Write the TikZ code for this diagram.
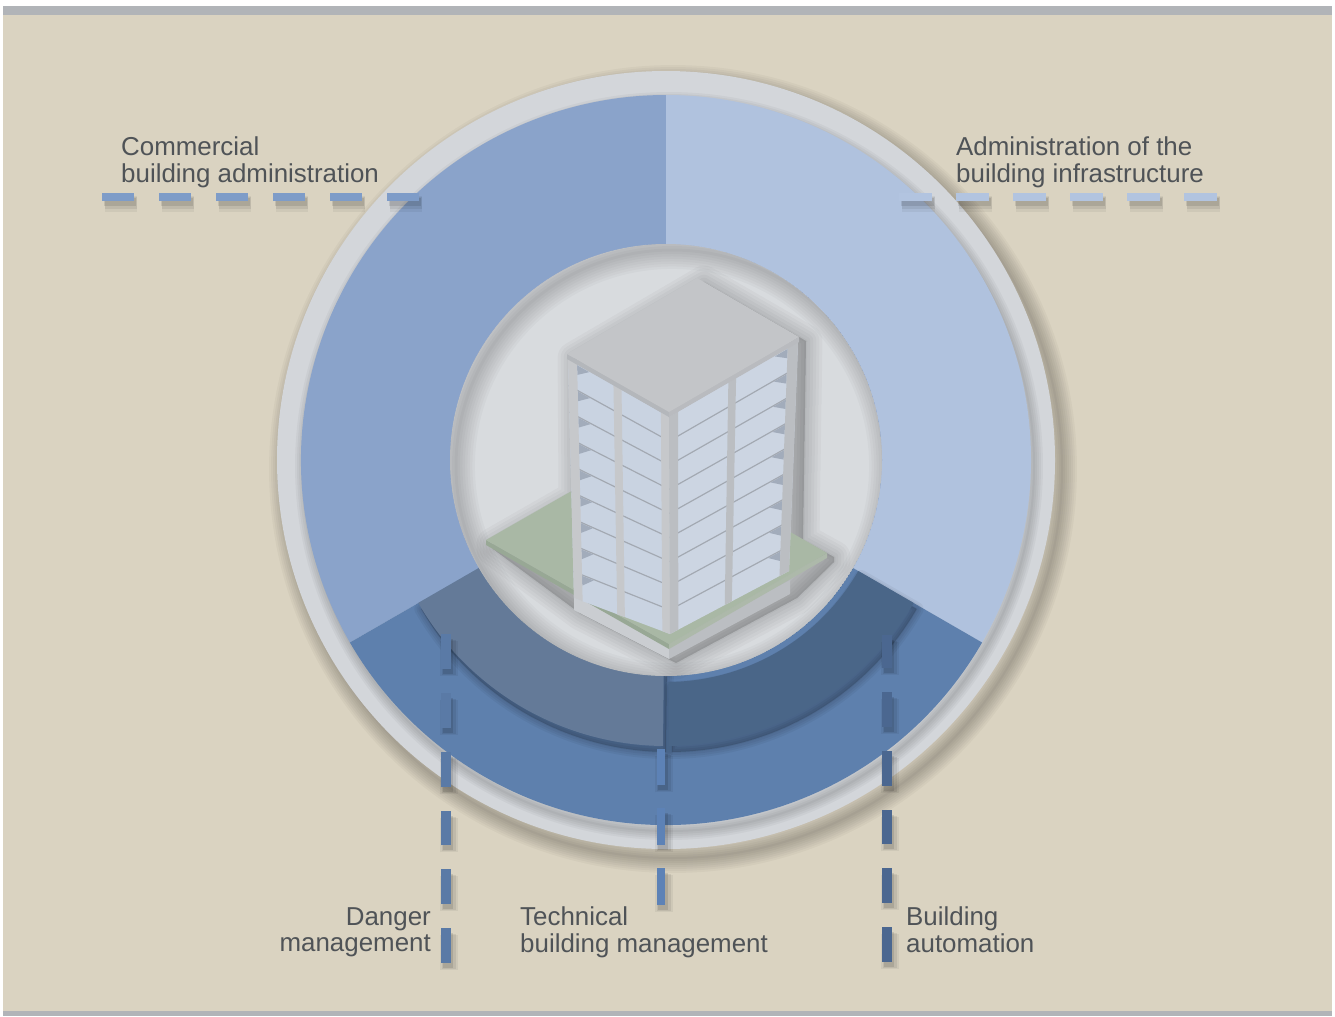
\documentclass[tikz,border=0pt]{standalone}
\usepackage{fontspec}
\setmainfont{Liberation Sans}
\usetikzlibrary{calc}

\definecolor{paper}{HTML}{DAD3C1}
\definecolor{bargray}{HTML}{B1B4B8}
\definecolor{rimgray}{HTML}{D3D6DA}
\definecolor{hubgray}{HTML}{D8DBDE}
\definecolor{commercial}{HTML}{8AA3CA}
\definecolor{infra}{HTML}{B0C2DE}
\definecolor{technical}{HTML}{5E80AD}
\definecolor{danger}{HTML}{647A98}
\definecolor{automation}{HTML}{4A6688}
\definecolor{commercialdash}{HTML}{7E9CC8}
\definecolor{infradash}{HTML}{B2C4E0}
\definecolor{dangerdash}{HTML}{5A7AA6}
\definecolor{technicaldash}{HTML}{5D82B6}
\definecolor{automationdash}{HTML}{4B6790}
\definecolor{ink}{HTML}{4F5357}
\definecolor{roof}{HTML}{C3C5C8}
\definecolor{roofside}{HTML}{B4B7BB}
\definecolor{pane}{HTML}{C9D3E1}
\definecolor{notch}{HTML}{A2ACBB}
\definecolor{pillar}{HTML}{C6C8CB}
\definecolor{pillarside}{HTML}{BBBEC2}
\definecolor{floorline}{HTML}{A3A9B2}
\definecolor{plate}{HTML}{A9B8A5}
\definecolor{plateside}{HTML}{98A895}
\definecolor{plinth}{HTML}{CACDD1}

% annular sector: options, from angle, to angle, inner radius, outer radius
\newcommand{\ringpart}[5]{%
  \fill[#1] ($(centre)+(#2:#5)$) arc[start angle=#2, end angle=#3, radius=#5]
    -- ($(centre)+(#3:#4)$) arc[start angle=#3, end angle=#2, radius=#4] -- cycle;}

\tikzset{
  ringtext/.style={
    font=\fontsize{26}{26.3}\selectfont,
    text=ink,
    inner sep=0pt,
    align=left
  },
  leader/.style 2 args={
    line width=#1,
    dash pattern=#2,
    preaction={draw=black, draw opacity=.05, line width=#1+9pt, dash pattern=#2, transform canvas={shift={(3,7)}}},
    preaction={draw=black, draw opacity=.07, line width=#1+5pt, dash pattern=#2, transform canvas={shift={(3,6)}}},
    preaction={draw=black, draw opacity=.10, line width=#1+1pt, dash pattern=#2, transform canvas={shift={(2,5)}}}
  },
  haze/.style={
    draw=black, fill=black, opacity=.045, line width=#1, line join=round
  }
}

\begin{document}
\begin{tikzpicture}[x=1bp, y=-1bp]
  \useasboundingbox (0,0) rectangle (1335,1016);
  \fill[white] (0,0) rectangle (1335,1016);
  \fill[paper] (3,6) rectangle (1332,1016);
  \fill[bargray] (3,6) rectangle (1332,15);
  \fill[bargray] (3,1011) rectangle (1332,1016);

  \coordinate (centre) at (666,460);

  % rim with its shadow
  \foreach \w in {2,6,...,30}
    \draw[black, draw opacity=.03, line width=\w pt] ($(centre)+(7,9)$) circle (389);
  \fill[rimgray] (centre) circle (389);

  % the three outer fields
  \foreach \w in {2,6,...,18}
    \draw[black, draw opacity=.035, line width=\w pt] ($(centre)+(3,6)$) circle (365);
  \ringpart{commercial}{150}{270}{0}{365}
  \ringpart{infra}{-90}{30}{0}{365}
  \ringpart{technical}{30}{150}{0}{365}

  % inner fields
  \foreach \w in {2,6,...,14} {
    \ringpart{haze=\w pt, transform canvas={shift={(3,6)}}}{90.6}{150}{200}{286}
    \ringpart{haze=\w pt, transform canvas={shift={(3,6)}}}{30}{89.4}{222}{286}
  }
  \ringpart{danger}{90.6}{150}{200}{286}
  \ringpart{automation}{30}{89.4}{222}{286}

  % hub with a soft inner shade
  \begin{scope}
    \clip (centre) circle (216);
    \fill[hubgray] (centre) circle (216);
    \foreach \w in {3,8,...,38}
      \draw[black, draw opacity=.022, line width=\w pt] ($(centre)+(6,6)$) circle (216);
  \end{scope}

  % building
  \coordinate (rT) at (697,278);
  \coordinate (rL) at (567,354);
  \coordinate (rF) at (669,412);
  \coordinate (rR) at (799,337);
  \coordinate (sL) at (567,359);
  \coordinate (sF) at (669,417);
  \coordinate (sR) at (799,342);
  \coordinate (TL) at (568,359);
  \coordinate (TF) at (669,417);
  \coordinate (TR) at (798,342);
  \coordinate (BL) at (574,598);
  \coordinate (BF) at (670,634);
  \coordinate (BR) at (789,571);
  \coordinate (pL) at (486,540);
  \coordinate (pF) at (669,644);
  \coordinate (pR) at (827,553);
  \coordinate (pB) at (645,449);
  \coordinate (pLb) at (486,545);
  \coordinate (pFb) at (669,649);
  \coordinate (pRb) at (827,558);
  \coordinate (kF) at (669,659);

  \foreach \w in {3,9,...,33}
    \path[haze=\w pt, opacity=.028, transform canvas={shift={(7,4)}}]
      (rL) -- (rT) -- (rR) -- (796,536) -- (pR) -- (pRb) -- (790,594) -- (kF)
      -- (574,610) -- (pLb) -- (pL) -- (568,493) -- cycle;

  \fill[plinth] (574,590) -- (669,645) -- (kF) -- (574,610) -- cycle;
  \fill[pillarside] (669,645) -- (790,580) -- (790,594) -- (kF) -- cycle;
  \fill[plateside] (pL) -- (pF) -- (pFb) -- (pLb) -- cycle;
  \fill[plateside!80!white] (pF) -- (pR) -- (pRb) -- (pFb) -- cycle;
  \fill[plate] (pL) -- (pB) -- (pR) -- (pF) -- cycle;

  \fill[pane] (TL) -- (TF) -- (BF) -- (BL) -- cycle;
  \fill[pane!95!white] (TF) -- (TR) -- (BR) -- (BF) -- cycle;
  \foreach \k in {0,...,8} {
    \pgfmathsetmacro\ta{\k/9+0.004}
    \pgfmathsetmacro\tb{\k/9+0.045}
    \fill[notch] ($($(TL)!\ta!(BL)$)!0.09!($(TF)!\ta!(BF)$)$)
      -- ($($(TL)!\ta!(BL)$)!0.21!($(TF)!\ta!(BF)$)$)
      -- ($($(TL)!\tb!(BL)$)!0.09!($(TF)!\tb!(BF)$)$) -- cycle;
    \fill[notch] ($($(TF)!\ta!(BF)$)!0.92!($(TR)!\ta!(BR)$)$)
      -- ($($(TF)!\ta!(BF)$)!0.82!($(TR)!\ta!(BR)$)$)
      -- ($($(TF)!\tb!(BF)$)!0.92!($(TR)!\tb!(BR)$)$) -- cycle;
  }
  \foreach \k in {1,...,8} {
    \draw[floorline, line width=1.2pt] ($(TL)!{\k/9}!(BL)$) -- ($(TF)!{\k/9}!(BF)$);
    \draw[floorline, line width=1.2pt] ($(TF)!{\k/9}!(BF)$) -- ($(TR)!{\k/9}!(BR)$);
  }
  \foreach \a/\b in {0/0.09, 0.45/0.53, 0.92/1}
    \fill[pillar] ($(TL)!\a!(TF)$) -- ($(TL)!\b!(TF)$) -- ($(BL)!\b!(BF)$) -- ($(BL)!\a!(BF)$) -- cycle;
  \foreach \a/\b in {0/0.07, 0.46/0.52, 0.92/1}
    \fill[pillarside] ($(TF)!\a!(TR)$) -- ($(TF)!\b!(TR)$) -- ($(BF)!\b!(BR)$) -- ($(BF)!\a!(BR)$) -- cycle;

  \fill[roofside] (rL) -- (rF) -- (sF) -- (sL) -- cycle;
  \fill[roofside!70!roof] (rF) -- (rR) -- (sR) -- (sF) -- cycle;
  \fill[roof] (rL) -- (rT) -- (rR) -- (rF) -- cycle;

  % leaders
  \coordinate (commercialA) at (102,197);
  \coordinate (commercialB) at (424,197);
  \coordinate (infraA) at (899,197);
  \coordinate (infraB) at (1219,197);
  \coordinate (dangerA) at (446,963);
  \coordinate (dangerB) at (446,633);
  \coordinate (technicalA) at (661,905);
  \coordinate (technicalB) at (661,748);
  \coordinate (automationA) at (887,962);
  \coordinate (automationB) at (887,635);

  \draw[leader={8pt}{on 32pt off 25.3pt}, draw=commercialdash] (commercialA) -- (commercialB);
  \draw[leader={8pt}{on 33pt off 24.3pt}, draw=infradash] (infraA) -- (infraB);
  \draw[leader={10pt}{on 35pt off 24pt}, draw=dangerdash] (dangerA) -- (dangerB);
  \draw[leader={9pt}{on 37pt off 23pt}, draw=technicaldash] (technicalA) -- (technicalB);
  \draw[leader={10pt}{on 35pt off 24pt}, draw=automationdash] (automationA) -- (automationB);

  % captions
  \node[ringtext, anchor=north west] (commercialtext) at (121,137) {Commercial\\building administration};
  \node[ringtext, anchor=north west] (infratext) at (956,137) {Administration of the\\building infrastructure};
  \node[ringtext, anchor=north east, align=right] (dangertext) at (431,907) {Danger\\management};
  \node[ringtext, anchor=north west] (technicaltext) at (520,907) {Technical\\building management};
  \node[ringtext, anchor=north west] (automationtext) at (906,907) {Building\\automation};
\end{tikzpicture}
\end{document}
